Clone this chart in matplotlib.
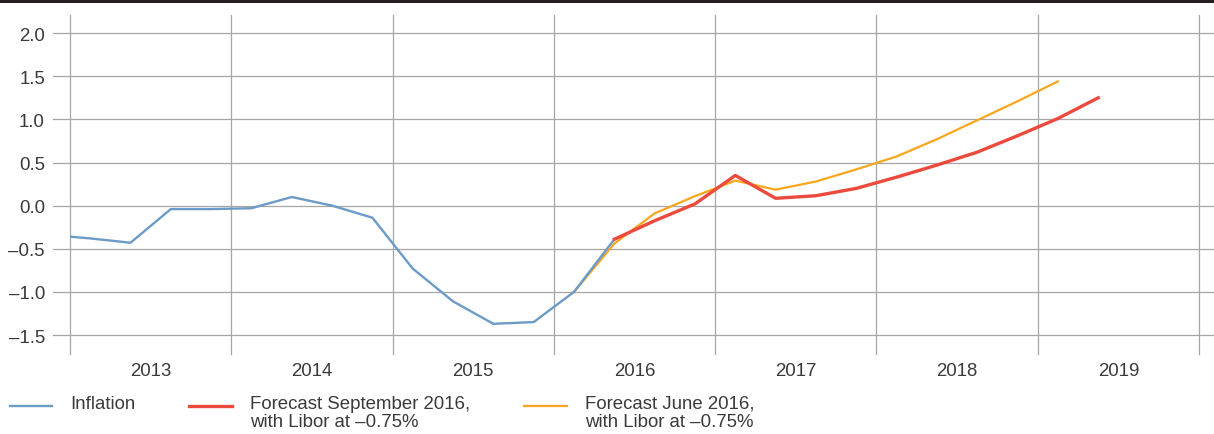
import numpy as np
import matplotlib
matplotlib.use('Agg')
import matplotlib.pyplot as plt
from matplotlib.lines import Line2D
from matplotlib.patches import Rectangle

plt.rcParams['font.family'] = ['Liberation Sans', 'DejaVu Sans']

# quarterly data, plotted at quarter midpoints
inflation_q = ["2012Q4", "2013Q1", "2013Q2", "2013Q3", "2013Q4", "2014Q1", "2014Q2",
               "2014Q3", "2014Q4", "2015Q1", "2015Q2", "2015Q3", "2015Q4", "2016Q1",
               "2016Q2"]
inflation = [-0.34, -0.38, -0.43, -0.04, -0.04, -0.03, 0.10,
             0.00, -0.14, -0.73, -1.11, -1.37, -1.35, -1.00,
             -0.39]

sep_q = ["2016Q2", "2016Q3", "2016Q4", "2017Q1", "2017Q2", "2017Q3", "2017Q4",
         "2018Q1", "2018Q2", "2018Q3", "2018Q4", "2019Q1", "2019Q2"]
sep_fc = [-0.39, -0.175, 0.02, 0.35, 0.085, 0.115, 0.20,
          0.33, 0.47, 0.62, 0.81, 1.01, 1.25]

jun_q = ["2016Q1", "2016Q2", "2016Q3", "2016Q4", "2017Q1", "2017Q2", "2017Q3",
         "2017Q4", "2018Q1", "2018Q2", "2018Q3", "2018Q4", "2019Q1"]
jun_fc = [-1.00, -0.44, -0.09, 0.11, 0.29, 0.185, 0.28,
          0.42, 0.57, 0.77, 0.99, 1.21, 1.44]

years = [2013, 2014, 2015, 2016, 2017, 2018, 2019]
yticks = [2.0, 1.5, 1.0, 0.5, 0.0, -0.5, -1.0, -1.5]

legend_labels = ["Inflation",
                 "Forecast September 2016,\nwith Libor at \u20130.75%",
                 "Forecast June 2016,\nwith Libor at \u20130.75%"]

BLUE = "#6b9bc6"
RED = "#ec4a3c"
ORANGE = "#f8a61c"
GRID = "#a6a6a6"
TEXT = "#3a3a3a"
FS = 13.4


def qpos(q):
    y, n = q.split("Q")
    return int(y) + (int(n) - 0.5) / 4.0


W, H = 1214, 435
fig = plt.figure(figsize=(W / 100, H / 100), dpi=100)
ax = fig.add_axes([70 / W, 1 - 355 / H, 1129 / W, 339 / H])

ax.plot([qpos(q) for q in jun_q], jun_fc, color=ORANGE, lw=1.6, zorder=3)
ax.plot([qpos(q) for q in inflation_q], inflation, color=BLUE, lw=1.7, zorder=4)
ax.plot([qpos(q) for q in sep_q], sep_fc, color=RED, lw=2.4, zorder=5)

ax.set_xlim(years[0], years[-1] + 1)
ax.set_ylim(-1.72, 2.21)

for yv in yticks:
    ax.axhline(yv, xmin=(53 - 70) / 1129, xmax=(1214 - 70) / 1129,
               color=GRID, lw=0.9, clip_on=False, zorder=1)
for xv in years + [years[-1] + 1]:
    ax.axvline(xv, color=GRID, lw=0.9, clip_on=False, zorder=1)

ax.set_yticks(yticks)
ax.set_yticklabels([f"{v:.1f}".replace("-", "\u2013") for v in yticks])
ax.set_xticks([y + 0.5 for y in years])
ax.set_xticklabels([str(y) for y in years])
ax.tick_params(axis='y', length=0, pad=18, labelsize=FS, labelcolor=TEXT)
ax.tick_params(axis='x', length=0, pad=6, labelsize=FS, labelcolor=TEXT)
for s in ax.spines.values():
    s.set_visible(False)

# top rule
fig.add_artist(Rectangle((0, 1 - 4 / H), 1, 4 / H, transform=fig.transFigure,
                         color="#231f20", lw=0))

# legend
legend_items = [(10, 52, 70, BLUE, 1.7), (189, 232, 250, RED, 2.4), (524, 567, 585, ORANGE, 1.6)]
for (x0, x1, xt, c, lw), lab in zip(legend_items, legend_labels):
    yl = 1 - 407 / H
    fig.add_artist(Line2D([x0 / W, x1 / W], [yl, yl], color=c, lw=lw,
                          transform=fig.transFigure))
    fig.text(xt / W, 1 - 396 / H, lab, ha='left', va='top', fontsize=FS,
             color=TEXT, linespacing=1.08)

fig.savefig("out.png", dpi=100)
